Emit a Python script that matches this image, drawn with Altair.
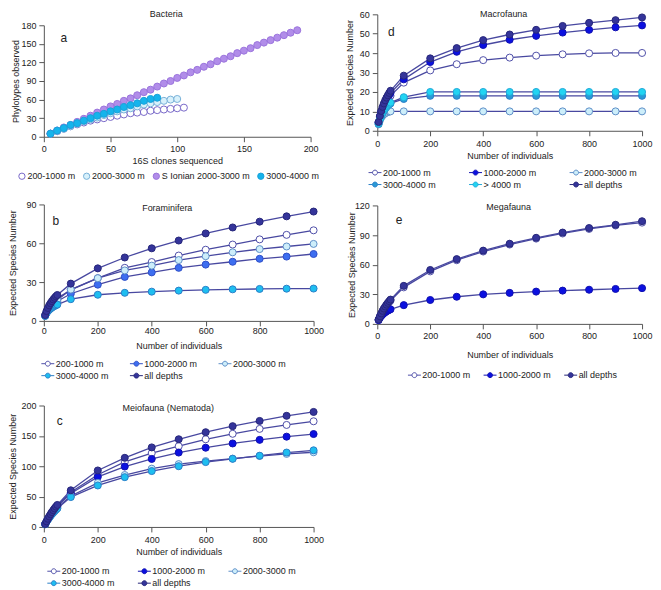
import altair as alt
import pandas as pd

FONT = "Liberation Sans"
TXT = "#222222"
LINE = "#4848a0"

# ---------------- data ----------------
# rarefaction sample sizes (panels b-e)
N_RARE = [5, 10, 15, 20, 25, 30, 35, 40, 45, 50, 100, 200, 300, 400, 500, 600, 700, 800, 900, 1000]

# (a) Bacteria: phylotypes observed vs 16S clones sequenced
A_X_200_1000 = [5, 10, 15, 20, 25, 30, 35, 40, 45, 50, 55, 60, 65, 70, 75, 80, 85, 90, 95, 100, 105]
A_Y_200_1000 = [5, 9, 13, 17, 20, 23, 26, 28, 30, 32, 34, 36, 38, 39, 40, 42, 43, 44, 45, 46, 47]
A_X_2000_3000 = [5, 10, 15, 20, 25, 30, 35, 40, 45, 50, 55, 60, 65, 70, 75, 80, 85, 90, 95, 100]
A_Y_2000_3000 = [5, 9, 13, 17, 21, 25, 28, 31, 35, 38, 41, 44, 46, 49, 52, 54, 56, 58, 60, 61]
A_X_SIONIAN = [5, 10, 15, 20, 25, 30, 35, 40, 45, 50, 55, 60, 65, 70, 75, 80, 85, 90, 95,
               100, 105, 110, 115, 120, 125, 130, 135, 140, 145, 150, 155, 160, 165, 170,
               175, 180, 185, 190]
A_Y_SIONIAN = [5, 10, 15, 19, 24, 29, 34, 39, 44, 49, 53, 58, 62, 67, 72, 76, 81, 86, 90,
               95, 99, 104, 108, 113, 117, 122, 126, 130, 135, 139, 143, 148, 152, 156,
               160, 164, 168, 172]
A_X_3000_4000 = [5, 10, 15, 20, 25, 30, 35, 40, 45, 50, 55, 60, 65, 70, 75, 80, 85]
A_Y_3000_4000 = [5, 10, 14, 19, 22, 26, 30, 34, 37, 41, 44, 48, 51, 54, 58, 61, 63]

# (b) Foraminifera
B_200_1000 = [4.2, 7, 9.2, 11, 12.4, 13.6, 14.7, 15.7, 16.6, 17.4, 24, 33, 41, 45.5, 50.5, 55, 59, 63, 66.5, 70]
B_1000_2000 = [4, 6.5, 8.3, 9.8, 11, 12, 13, 13.8, 14.5, 15.2, 21, 28, 34, 37.5, 41, 43.5, 45.7, 48, 49.7, 51.7]
B_2000_3000 = [4.1, 6.8, 8.8, 10.4, 11.7, 12.8, 13.8, 14.7, 15.5, 16.2, 24.2, 33, 39, 42.7, 47, 50, 53, 55.5, 57.5, 59.5]
B_3000_4000 = [3.8, 6, 7.5, 8.6, 9.5, 10.3, 11, 11.6, 12.1, 12.6, 16.8, 20.2, 21.7, 22.6, 23.4, 24, 24.4, 24.7, 24.9, 25]
B_ALL = [4.5, 7.6, 10, 12, 13.7, 15.2, 16.6, 17.8, 19, 20, 28.8, 40.6, 49, 56.1, 62.1, 67.6, 72.2, 76.7, 80.8, 84.5]

# (c) Meiofauna (Nematoda)
C_200_1000 = [4.7, 9, 13, 16.8, 20.3, 23.6, 26.7, 29.6, 32.3, 34.9, 57, 86, 107, 121.7, 133, 144.4, 153.4, 161.5, 168, 174]
C_1000_2000 = [4.7, 9, 12.9, 16.6, 20, 23.2, 26.2, 29, 31.7, 34.2, 55, 82.5, 99.5, 112, 122.5, 130.5, 137.5, 143.4, 148.7, 153]
C_2000_3000 = [4.6, 8.7, 12.4, 15.8, 18.9, 21.8, 24.5, 27, 29.4, 31.7, 51, 72.5, 85.5, 96, 103.5, 108.5, 112.5, 116.8, 120.3, 123]
C_3000_4000 = [4.5, 8.5, 12.1, 15.3, 18.2, 21, 23.6, 26, 28.3, 30.5, 49.2, 68.3, 82, 92, 100, 106.8, 112.2, 117.3, 122.5, 126.2]
C_ALL = [4.8, 9.2, 13.4, 17.3, 21, 24.4, 27.6, 30.6, 33.5, 36.2, 60.3, 93, 113.8, 131, 144.4, 156, 166, 174.6, 183, 189.4]

# (d) Macrofauna
D_200_1000 = [4.3, 7, 9.2, 11, 12.5, 13.8, 15, 16, 17, 18, 24.8, 31.1, 34.3, 36.4, 37.7, 38.7, 39.4, 39.9, 40.1, 40.1]
D_1000_2000 = [4.4, 7.3, 9.7, 11.7, 13.4, 14.9, 16.2, 17.4, 18.5, 19.5, 26.5, 35.4, 40.7, 44.2, 46.9, 48.9, 50.6, 52, 53.3, 54.3]
D_2000_3000 = [3.3, 5.4, 6.8, 7.8, 8.5, 9, 9.4, 9.7, 9.9, 10, 10, 10, 10, 10, 10, 10, 10, 10, 10, 10]
D_3000_4000 = [3.6, 6, 7.8, 9.3, 10.5, 11.5, 12.3, 13, 13.6, 14.1, 16.4, 18, 18, 18, 18, 18, 18, 18, 18, 18]
D_4000 = [3.7, 6.1, 8, 9.6, 10.8, 11.8, 12.7, 13.4, 14, 14.5, 17.3, 20, 20, 20, 20, 20, 20, 20, 20, 20]
D_ALL = [4.5, 7.6, 10.2, 12.3, 14.1, 15.7, 17.1, 18.3, 19.5, 20.6, 28.4, 37.3, 42.6, 46.7, 49.6, 52, 54, 55.6, 57, 58.4]

# (e) Megafauna
E_200_1000 = [4.3, 7.5, 10.3, 12.8, 15, 17, 18.8, 20.5, 22, 23.5, 37, 53.2, 64.5, 73.3, 80.4, 86.4, 91.6, 96.2, 99.7, 102.6]
E_1000_2000 = [3.8, 6.3, 8.1, 9.6, 10.8, 11.8, 12.7, 13.5, 14.2, 14.8, 19, 24.2, 27.5, 29.9, 31.4, 32.7, 33.7, 34.6, 35.4, 36.2]
E_ALL = [4.4, 7.7, 10.6, 13.2, 15.5, 17.6, 19.5, 21.3, 23, 24.6, 38.5, 54.6, 65.6, 74.2, 81.2, 87.2, 92.5, 97.1, 100.4, 104]

# ---------------- styles ----------------
S1, S2, S3, S4, S5, S6 = "200-1000 m", "1000-2000 m", "2000-3000 m", "3000-4000 m", "> 4000 m", "all depths"
SI = "S Ionian 2000-3000 m"

FILL = {S1: "#ffffff", S2: "#0b10e0", S3: "#cdeefa", S4: "#1ebef0", S5: "#22d4f2", S6: "#34349a"}
STROKE = {S1: "#5050a8", S2: "#1010b0", S3: "#5f8fc8", S4: "#2a7fc8", S5: "#20a8d8", S6: "#26267a"}

SYM = "M-1,0H-0.38M0.38,0H1M-0.38,0A0.38,0.38,0,1,1,0.38,0A0.38,0.38,0,1,1,-0.38,0Z"


def frame(pairs):
    rows = []
    for name, xs, ys in pairs:
        for xv, yv in zip(xs, ys):
            rows.append({"n": xv, "v": yv, "s": name})
    return pd.DataFrame(rows)


def legend(x, y, cols, colpad, sym=SYM, symsize=169, align="all"):
    return alt.Legend(title=None, orient="none", legendX=x, legendY=y, direction="horizontal",
                      columns=cols, symbolType=sym, symbolSize=symsize, symbolStrokeWidth=1,
                      labelFont=FONT, labelFontSize=9, labelColor=TXT, labelOffset=1,
                      columnPadding=colpad, rowPadding=0, gridAlign=align, padding=0,
                      symbolOpacity=1)


def label_text(text, x, y, size=9):
    return (alt.Chart(pd.DataFrame({"t": [text]}))
            .mark_text(font=FONT, fontSize=size, color=TXT, baseline="middle")
            .encode(text="t:N", x=alt.value(x), y=alt.value(y)))


def spacer(h, w=10):
    # invisible block used only to set the gap between stacked panels
    return (alt.Chart(pd.DataFrame({"t": [0]})).mark_rule(opacity=0)
            .encode(x=alt.value(0), y=alt.value(0), y2=alt.value(h))
            .properties(width=w, height=h))


def panel(df, names, fills, strokes, w, h, xdom, xvals, ydom, yvals, xtitle, ytitle,
          ytx, xty, xlabpad, title, tx, ty, letter, lx, ly, leg, size, lines=True):
    x = alt.X("n:Q", scale=alt.Scale(domain=xdom, nice=False, zero=True),
              axis=alt.Axis(values=xvals, title=xtitle, titleY=xty, titleBaseline="middle",
                            labelPadding=xlabpad, labelFlush=False, format="d"))
    y = alt.Y("v:Q", scale=alt.Scale(domain=ydom, nice=False, zero=True),
              axis=alt.Axis(values=yvals, title=ytitle, titleX=ytx, titleBaseline="middle",
                            labelPadding=3, format="d"))
    base = alt.Chart(df)
    layers = []
    if lines:
        layers.append(base.mark_line(color=LINE, strokeWidth=1.3).encode(x=x, y=y, detail="s:N"))
    layers.append(
        base.mark_point(shape="circle", filled=True, opacity=1, size=size, strokeWidth=1).encode(
            x=x, y=y,
            fill=alt.Fill("s:N", scale=alt.Scale(domain=names, range=fills), legend=leg),
            stroke=alt.Stroke("s:N", scale=alt.Scale(domain=names, range=strokes), legend=leg),
        )
    )
    if title:
        layers.append(label_text(title, tx, ty))
    layers.append(label_text(letter, lx, ly, 12))
    return alt.layer(*layers).properties(width=w, height=h)


XR = [0, 200, 400, 600, 800, 1000]

# (a)
a_names = [S1, S3, SI, S4]
a_df = frame([(S1, A_X_200_1000, A_Y_200_1000), (S3, A_X_2000_3000, A_Y_2000_3000),
              (SI, A_X_SIONIAN, A_Y_SIONIAN), (S4, A_X_3000_4000, A_Y_3000_4000)])
a_title = label_text("Bacteria", 123, 0).properties(width=268, height=1)
pa = panel(a_df, a_names, ["#ffffff", "#d8f1fb", "#b18de9", "#15b4ec"],
           ["#7868c8", "#78b0d8", "#9a74dc", "#1aa0d8"], 268, 112,
           [0, 200], [0, 50, 100, 150, 200], [0, 180], [0, 30, 60, 90, 120, 150, 180],
           "16S clones sequenced", "Phylotypes observed", -28, 23.5, 3,
           None, 0, 0, "a", 20, 13,
           legend(-26.5, 147, 4, 5, sym="circle", symsize=40, align="each"), 50, lines=False)

# (b)
b_names = [S1, S2, S3, S4, S6]
b_fill = [FILL[S1], "#3d6ef0", FILL[S3], FILL[S4], FILL[S6]]
b_stroke = [STROKE[S1], "#3050c8", STROKE[S3], STROKE[S4], STROKE[S6]]
b_df = frame([(k, N_RARE, v) for k, v in zip(b_names, [B_200_1000, B_1000_2000, B_2000_3000, B_3000_4000, B_ALL])])
pb = panel(b_df, b_names, b_fill, b_stroke, 271, 117, [0, 1000], XR, [0, 90], [0, 30, 60, 90],
           "Number of individuals", "Expected Species Number", -31, 25, 1,
           "Foraminifera", 124, 3.5, "b", 12, 17, legend(-3, 153, 3, 18), 50)

# (c)
c_names = [S1, S2, S3, S4, S6]
c_df = frame([(k, N_RARE, v) for k, v in zip(c_names, [C_200_1000, C_1000_2000, C_2000_3000, C_3000_4000, C_ALL])])
pc = panel(c_df, c_names, [FILL[k] for k in c_names], [STROKE[k] for k in c_names], 271, 122,
           [0, 1000], XR, [0, 200], [0, 50, 100, 150, 200],
           "Number of individuals", "Expected Species Number", -31, 25, 3.5,
           "Meiofauna (Nematoda)", 125, 3, "c", 16, 16, legend(3, 159.5, 3, 20), 50)

# (d)
d_names = [S1, S2, S3, S4, S5, S6]
d_fill = [FILL[S1], FILL[S2], FILL[S3], "#2a9ad6", FILL[S5], FILL[S6]]
d_df = frame([(k, N_RARE, v) for k, v in zip(d_names, [D_200_1000, D_1000_2000, D_2000_3000, D_3000_4000, D_4000, D_ALL])])
pdd = panel(d_df, d_names, d_fill, [STROKE[k] for k in d_names], 266, 117,
            [0, 1000], XR, [0, 60], [0, 10, 20, 30, 40, 50, 60],
            "Number of individuals", "Expected Species Number", -28, 25, 4,
            "Macrofauna", 127, 0, "d", 14, 18, legend(-9.3, 152, 3, 30), 50)

# (e)
e_names = [S1, S2, S6]
e_df = frame([(k, N_RARE, v) for k, v in zip(e_names, [E_200_1000, E_1000_2000, E_ALL])])
pe = panel(e_df, e_names, [FILL[k] for k in e_names], [STROKE[k] for k in e_names], 266, 119,
           [0, 1000], XR, [0, 120], [0, 30, 60, 90, 120],
           "Number of individuals", "Expected Species Number", -26.3, 31, 3,
           "Megafauna", 132, 1.5, "e", 22, 15, legend(30.3, 163.5, 3, 10, align="each"), 50)

col1 = (alt.vconcat(a_title, pa, spacer(15), pb, spacer(16.6), pc, spacing=0)
        .resolve_scale(fill="independent", stroke="independent"))
col2 = (alt.vconcat(pdd, spacer(8), pe, spacing=0)
        .resolve_scale(fill="independent", stroke="independent"))

chart = (
    alt.hconcat(col1, col2, spacing=20)
    .resolve_scale(fill="independent", stroke="independent")
    .properties(padding=0, background="white")
    .configure_view(stroke="transparent")
    .configure_axis(grid=False, domainColor="#555555", tickColor="#555555", tickSize=5,
                    labelFont=FONT, labelFontSize=9, labelColor=TXT,
                    titleFont=FONT, titleFontSize=9, titleFontWeight="normal", titleColor=TXT)
)

chart.save("out.html", embed_options={"renderer": "svg", "actions": False})
